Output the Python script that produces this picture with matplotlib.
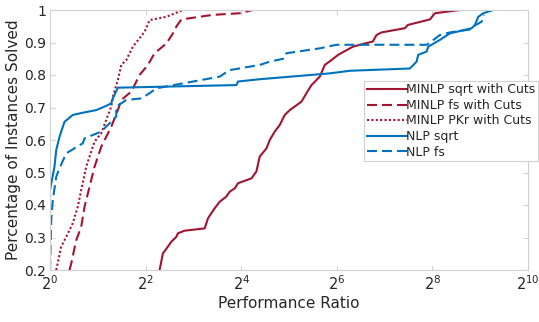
import matplotlib
matplotlib.use('Agg')
import matplotlib.pyplot as plt
import numpy as np

# performance ratios are stored as log2 values
minlp_sqrt_log2 = [2.293, 2.362, 2.467, 2.538, 2.643, 2.676, 2.817, 3.236, 3.305, 3.445,
                   3.55, 3.69, 3.759, 3.864, 3.933, 4.214, 4.318, 4.387, 4.528, 4.597,
                   4.702, 4.806, 4.911, 5.016, 5.261, 5.365, 5.47, 5.644, 5.749, 5.889,
                   6.027, 6.335, 6.586, 6.754, 6.831, 6.936, 7.424, 7.487, 7.948, 8.052,
                   8.576]
minlp_sqrt_y = [0.2, 0.251, 0.272, 0.287, 0.302, 0.313, 0.321, 0.328, 0.359, 0.39,
                0.41, 0.426, 0.441, 0.451, 0.467, 0.482, 0.503, 0.549, 0.574, 0.60,
                0.626, 0.646, 0.677, 0.692, 0.718, 0.744, 0.769, 0.795, 0.831, 0.846,
                0.862, 0.887, 0.897, 0.903, 0.923, 0.931, 0.944, 0.954, 0.971, 0.99,
                1.0]

minlp_fs_log2 = [0.408, 0.444, 0.549, 0.653, 0.723, 0.827, 0.932, 1.072, 1.177, 1.282,
                 1.42, 1.491, 1.701, 1.874, 2.048, 2.188, 2.434, 2.572, 2.643, 2.748,
                 3.403, 3.969, 4.241]
minlp_fs_y = [0.2, 0.22, 0.292, 0.333, 0.395, 0.456, 0.518, 0.579, 0.61, 0.641,
              0.692, 0.723, 0.749, 0.8, 0.831, 0.867, 0.897, 0.928, 0.949, 0.971,
              0.985, 0.99, 1.0]

minlp_pkr_log2 = [0.13, 0.235, 0.339, 0.477, 0.582, 0.653, 0.758, 0.827, 0.932, 1.072,
                  1.177, 1.282, 1.315, 1.42, 1.491, 1.596, 1.734, 1.979, 2.084, 2.434,
                  2.781]
minlp_pkr_y = [0.2, 0.272, 0.302, 0.344, 0.395, 0.446, 0.518, 0.549, 0.595, 0.621,
               0.662, 0.703, 0.733, 0.785, 0.831, 0.846, 0.887, 0.933, 0.969, 0.979,
               1.0]

nlp_sqrt_log2 = [0.0, 0.0, 0.094, 0.13, 0.199, 0.304, 0.477, 0.687, 0.968, 1.177,
                 1.282, 1.315, 1.42, 3.9, 3.933, 4.387, 5.853, 6.272, 7.529, 7.669,
                 7.703, 7.879, 7.912, 8.157, 8.366, 8.821, 8.89, 8.959, 9.064, 9.273]
nlp_sqrt_y = [0.2, 0.446, 0.518, 0.569, 0.61, 0.656, 0.677, 0.684, 0.692, 0.705,
              0.713, 0.728, 0.761, 0.769, 0.78, 0.787, 0.805, 0.813, 0.82, 0.841,
              0.862, 0.872, 0.887, 0.908, 0.928, 0.944, 0.954, 0.979, 0.99, 1.0]

nlp_fs_log2 = [0.0, 0.025, 0.059, 0.13, 0.199, 0.339, 0.687, 0.723, 1.072, 1.386,
               1.386, 1.596, 1.91, 2.084, 2.224, 3.55, 3.759, 4.387, 4.597, 4.911,
               4.947, 5.644, 5.994, 7.885, 8.157, 8.366, 8.785, 8.848, 9.03, 9.079]
nlp_fs_y = [0.2, 0.354, 0.415, 0.487, 0.513, 0.559, 0.59, 0.605, 0.626, 0.672,
            0.703, 0.723, 0.728, 0.744, 0.759, 0.795, 0.815, 0.831, 0.841, 0.851,
            0.867, 0.882, 0.893, 0.893, 0.923, 0.931, 0.94, 0.949, 0.964, 0.985]

labels = ['MINLP sqrt with Cuts', 'MINLP fs with Cuts', 'MINLP PKr with Cuts',
          'NLP sqrt', 'NLP fs']

RED = '#A2142F'
BLUE = '#0072BD'
GREY = '#262626'
dashed = (0, (4.8, 2.4))
dotted = (0, (1, 1.1))

fig = plt.figure(figsize=(5.39, 3.22), dpi=100)
ax = fig.add_axes([50 / 539, 1 - 270 / 322, 478 / 539, 260 / 322])

series = [
  (minlp_sqrt_log2, minlp_sqrt_y, RED, '-'),
  (minlp_fs_log2, minlp_fs_y, RED, dashed),
  (minlp_pkr_log2, minlp_pkr_y, RED, dotted),
  (nlp_sqrt_log2, nlp_sqrt_y, BLUE, '-'),
  (nlp_fs_log2, nlp_fs_y, BLUE, dashed),
]
for (lx, y, c, ls), lab in zip(series, labels):
  ax.plot(2.0 ** np.array(lx), y, color=c, linestyle=ls, lw=1.5, label=lab)

ax.set_xscale('log', base=2)
ax.set_xlim(1, 1024)
ax.set_ylim(0.2, 1)
ax.set_xticks([2 ** k for k in range(0, 11, 2)])
ax.set_xticklabels(['$2^{%d}$' % k for k in range(0, 11, 2)])
ax.xaxis.set_minor_locator(matplotlib.ticker.NullLocator())
yt = np.round(np.arange(0.2, 1.01, 0.1), 1)
ax.set_yticks(yt)
ax.set_yticklabels(['%g' % v for v in yt])

for s in ax.spines.values():
  s.set_color('#d0d0d0')
  s.set_linewidth(0.8)
ax.tick_params(which='both', direction='in', length=3.5, width=0.6,
               color='#c8c8c8', labelcolor=GREY, labelsize=10,
               top=True, right=True, pad=3)
ax.tick_params(axis='x', labelsize=10.5)

ax.set_xlabel('Performance Ratio', fontsize=11, color=GREY, labelpad=2)
ax.set_ylabel('Percentage of Instances Solved', fontsize=11, color=GREY, labelpad=2)

leg = fig.legend(loc='upper left', bbox_to_anchor=(364 / 539, 1 - 81 / 322),
                 fontsize=9, handlelength=3.2, handletextpad=0.0,
                 labelspacing=0.2, borderpad=0.2, borderaxespad=0.0,
                 fancybox=False, framealpha=1)
leg.get_frame().set_edgecolor('#d0d0d0')
leg.get_frame().set_linewidth(0.8)
for t in leg.get_texts():
  t.set_color(GREY)

plt.rcParams['mathtext.fontset'] = 'dejavusans'
fig.savefig('out.png', dpi=100)
